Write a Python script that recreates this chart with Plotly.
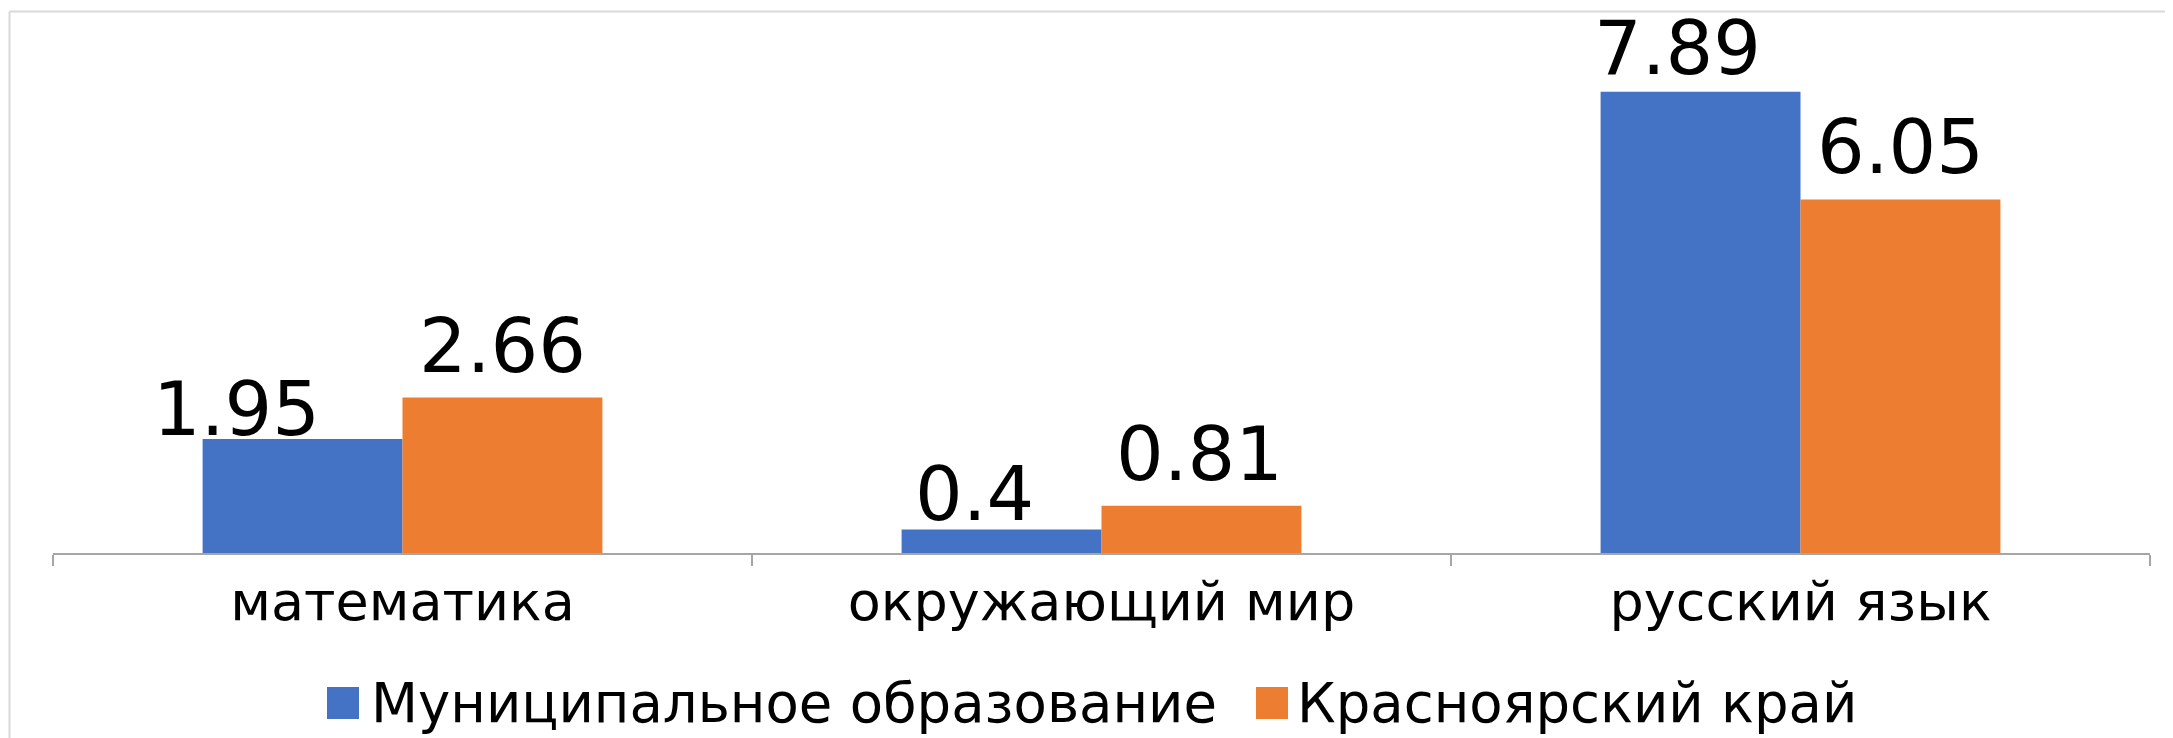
import plotly.graph_objects as go

# ---- data ----
categories = ["математика", "окружающий мир", "русский язык"]
series_names = ["Муниципальное образование", "Красноярский край"]
municipal = [1.95, 0.4, 7.89]
krai = [2.66, 0.81, 6.05]

# ---- style ----
colors = ["#4472C4", "#ED7D31"]
FONT = "DejaVu Sans"
W, H = 2173, 738
OFF = 8  # page body margin of the HTML page
ML, MR, MT, MB = 53 - OFF, 23 + OFF, 27 - OFF, 185 + OFF
PW, PH = W - ML - MR, H - MT - MB

# label nudges (pixels) per series / category
label_dx = [[-66, -27, -23], [0, -2, 0]]
label_gap = [[3, 8, 17], [24, 24, 25]]
bar_offset = [-100, 100]


def px_x(px):
    # page pixel -> paper fraction
    return (px - OFF - ML) / PW


def px_y(py):
    return (H - MB - (py - OFF)) / PH


fig = go.Figure()
for name, vals, col in zip(series_names, [municipal, krai], colors):
    fig.add_trace(go.Bar(x=categories, y=vals, name=name, marker=dict(color=col, line=dict(width=0)),
                         showlegend=False, hoverinfo="x+y"))

annotations = []
fs_lbl = 75
desc = 0.236 * fs_lbl + 1
for si, vals in enumerate([municipal, krai]):
    for ci, v in enumerate(vals):
        annotations.append(dict(
            x=categories[ci], y=v, xref="x", yref="y", text=str(v), showarrow=False,
            xanchor="center", yanchor="bottom",
            xshift=bar_offset[si] + label_dx[si][ci],
            yshift=label_gap[si][ci] - desc,
            font=dict(family=FONT, size=fs_lbl, color="#000000"),
        ))

# custom legend
leg_squares = [(327, 359), (1256, 1288)]
leg_text_x = [369, 1295]
shapes = []
for (x0, x1), col, tx, nm in zip(leg_squares, colors, leg_text_x, series_names):
    shapes.append(dict(type="rect", xref="paper", yref="paper",
                       x0=px_x(x0), x1=px_x(x1), y0=px_y(719), y1=px_y(687),
                       fillcolor=col, line=dict(width=0)))
    annotations.append(dict(x=px_x(tx), y=px_y(703), xref="paper", yref="paper", text=nm,
                            showarrow=False, xanchor="left", yanchor="middle",
                            font=dict(family=FONT, size=54.5, color="#000000")))

# outer chart border (left and top edges visible)
shapes.append(dict(type="line", xref="paper", yref="paper", x0=px_x(9.5), x1=px_x(9.5),
                   y0=px_y(11.5), y1=px_y(H + 20), line=dict(color="#D9D9D9", width=2)))
shapes.append(dict(type="line", xref="paper", yref="paper", x0=px_x(9.5), x1=px_x(W + 20),
                   y0=px_y(11.5), y1=px_y(11.5), line=dict(color="#D9D9D9", width=2)))

fig.update_layout(
    width=W, height=H,
    margin=dict(l=ML, r=MR, t=MT, b=MB, pad=0),
    paper_bgcolor="white", plot_bgcolor="white",
    barmode="group", bargap=0.428, bargroupgap=0,
    showlegend=False,
    annotations=annotations, shapes=shapes,
    font=dict(family=FONT, color="#000000"),
)
fig.update_xaxes(
    type="category", showline=True, linecolor="#A6A6A6", linewidth=2,
    ticks="outside", tickson="boundaries", ticklen=11, tickcolor="#A6A6A6", tickwidth=2,
    tickfont=dict(family=FONT, size=54, color="#000000"), showgrid=False,
)
fig.update_yaxes(range=[0, 9], visible=False, showgrid=False, zeroline=False)

fig.write_html("out.html")
